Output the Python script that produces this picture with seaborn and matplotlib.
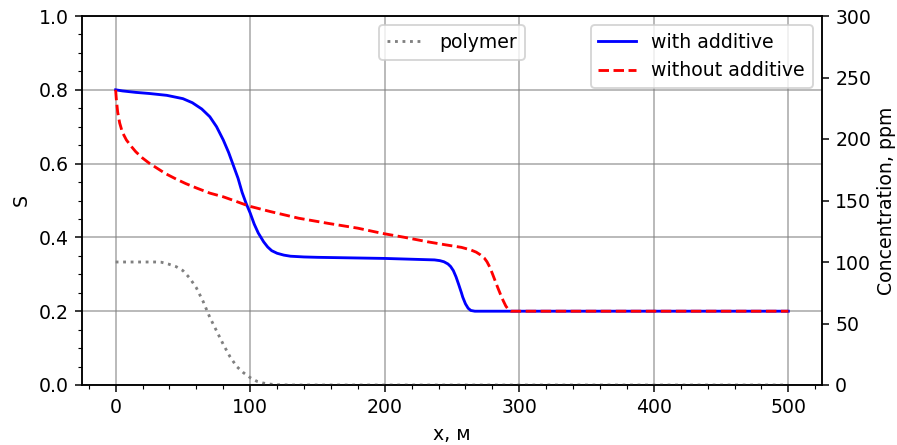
import matplotlib
matplotlib.use("Agg")
import matplotlib.pyplot as plt
import seaborn as sns
import pandas as pd
from matplotlib.ticker import MultipleLocator

# --- data ---
x_with = [0, 5, 15, 25, 38, 50, 57, 64, 70, 75, 80, 84, 87, 91, 94, 97, 100, 103, 106,
          110, 113, 116, 120, 125, 130, 140, 150, 200, 237, 241, 244, 247, 249, 251, 253,
          255, 257, 258, 260, 262, 264, 267, 275, 300, 400, 500]
s_with = [0.80, 0.797, 0.793, 0.790, 0.785, 0.776, 0.765, 0.748, 0.727, 0.700, 0.664,
          0.630, 0.600, 0.560, 0.522, 0.492, 0.466, 0.436, 0.412, 0.388, 0.374, 0.364,
          0.357, 0.352, 0.349, 0.347, 0.346, 0.343, 0.339, 0.337, 0.334, 0.328, 0.321,
          0.310, 0.293, 0.272, 0.250, 0.238, 0.220, 0.208, 0.202, 0.200, 0.200, 0.200,
          0.200, 0.200]

x_without = [0, 0.5, 1.5, 3, 5, 8, 12, 15, 20, 25, 31, 37, 45, 52, 60, 70, 80, 87, 99,
             115, 136, 158, 180, 198, 215, 232, 245, 257, 264, 268, 271, 274, 276, 278,
             280, 282, 284, 286, 288, 290, 292, 294, 297, 300, 400, 500]
s_without = [0.80, 0.775, 0.740, 0.710, 0.685, 0.664, 0.645, 0.632, 0.615, 0.601, 0.587,
             0.573, 0.558, 0.546, 0.534, 0.520, 0.510, 0.501, 0.485, 0.470, 0.452, 0.438,
             0.425, 0.411, 0.400, 0.388, 0.380, 0.373, 0.366, 0.360, 0.353, 0.344, 0.334,
             0.320, 0.302, 0.283, 0.264, 0.246, 0.229, 0.214, 0.204, 0.200, 0.200, 0.200,
             0.200, 0.200]

x_poly = [0, 10, 20, 30, 34, 39, 45, 50, 55, 60, 65, 70, 75, 80, 85, 90, 95, 100, 105,
          110, 115, 120, 130, 150, 200, 300, 400, 500]
c_poly = [100, 100, 100, 100, 99.8, 98.4, 96.2, 93, 87, 79, 68, 55, 44, 33, 23, 15, 10,
          6, 3, 1.5, 0.7, 0.2, 0, 0, 0, 0, 0, 0]

x_ticks = [0, 100, 200, 300, 400, 500]
s_ticks = [0.0, 0.2, 0.4, 0.6, 0.8, 1.0]
c_ticks = [0, 50, 100, 150, 200, 250, 300]

DPI = 136
fig = plt.figure(figsize=(897 / DPI, 445 / DPI), dpi=DPI)
ax = fig.add_axes([82 / 897, 1 - 385 / 445, (822 - 82) / 897, (385 - 16) / 445])

df_w = pd.DataFrame({"x": x_with, "S": s_with})
df_wo = pd.DataFrame({"x": x_without, "S": s_without})
df_p = pd.DataFrame({"x": x_poly, "C": c_poly})

sns.lineplot(data=df_w, x="x", y="S", ax=ax, color="blue", lw=1.5,
             label="with additive", sort=False, estimator=None)
sns.lineplot(data=df_wo, x="x", y="S", ax=ax, color="red", lw=1.5, linestyle="--",
             label="without additive", sort=False, estimator=None)

ax.set_xlim(-25, 525)
ax.set_ylim(0, 1)
ax.set_xticks(x_ticks)
ax.set_yticks(s_ticks)
ax.xaxis.set_minor_locator(MultipleLocator(20))
ax.yaxis.set_minor_locator(MultipleLocator(0.05))
ax.grid(True, which="major", color="gray", alpha=0.7, lw=0.8)
ax.set_xlabel("x, м")
ax.set_ylabel("S")
ax.legend(loc="upper right")

ax2 = ax.twinx()
sns.lineplot(data=df_p, x="x", y="C", ax=ax2, color="gray", lw=1.5, linestyle=":",
             label="polymer", sort=False, estimator=None)
ax2.set_ylim(0, 300)
ax2.set_yticks(c_ticks)
ax2.set_ylabel("Concentration, ppm", labelpad=3)
ax2.legend(loc="upper center")

fig.savefig("out.png", dpi=DPI)
